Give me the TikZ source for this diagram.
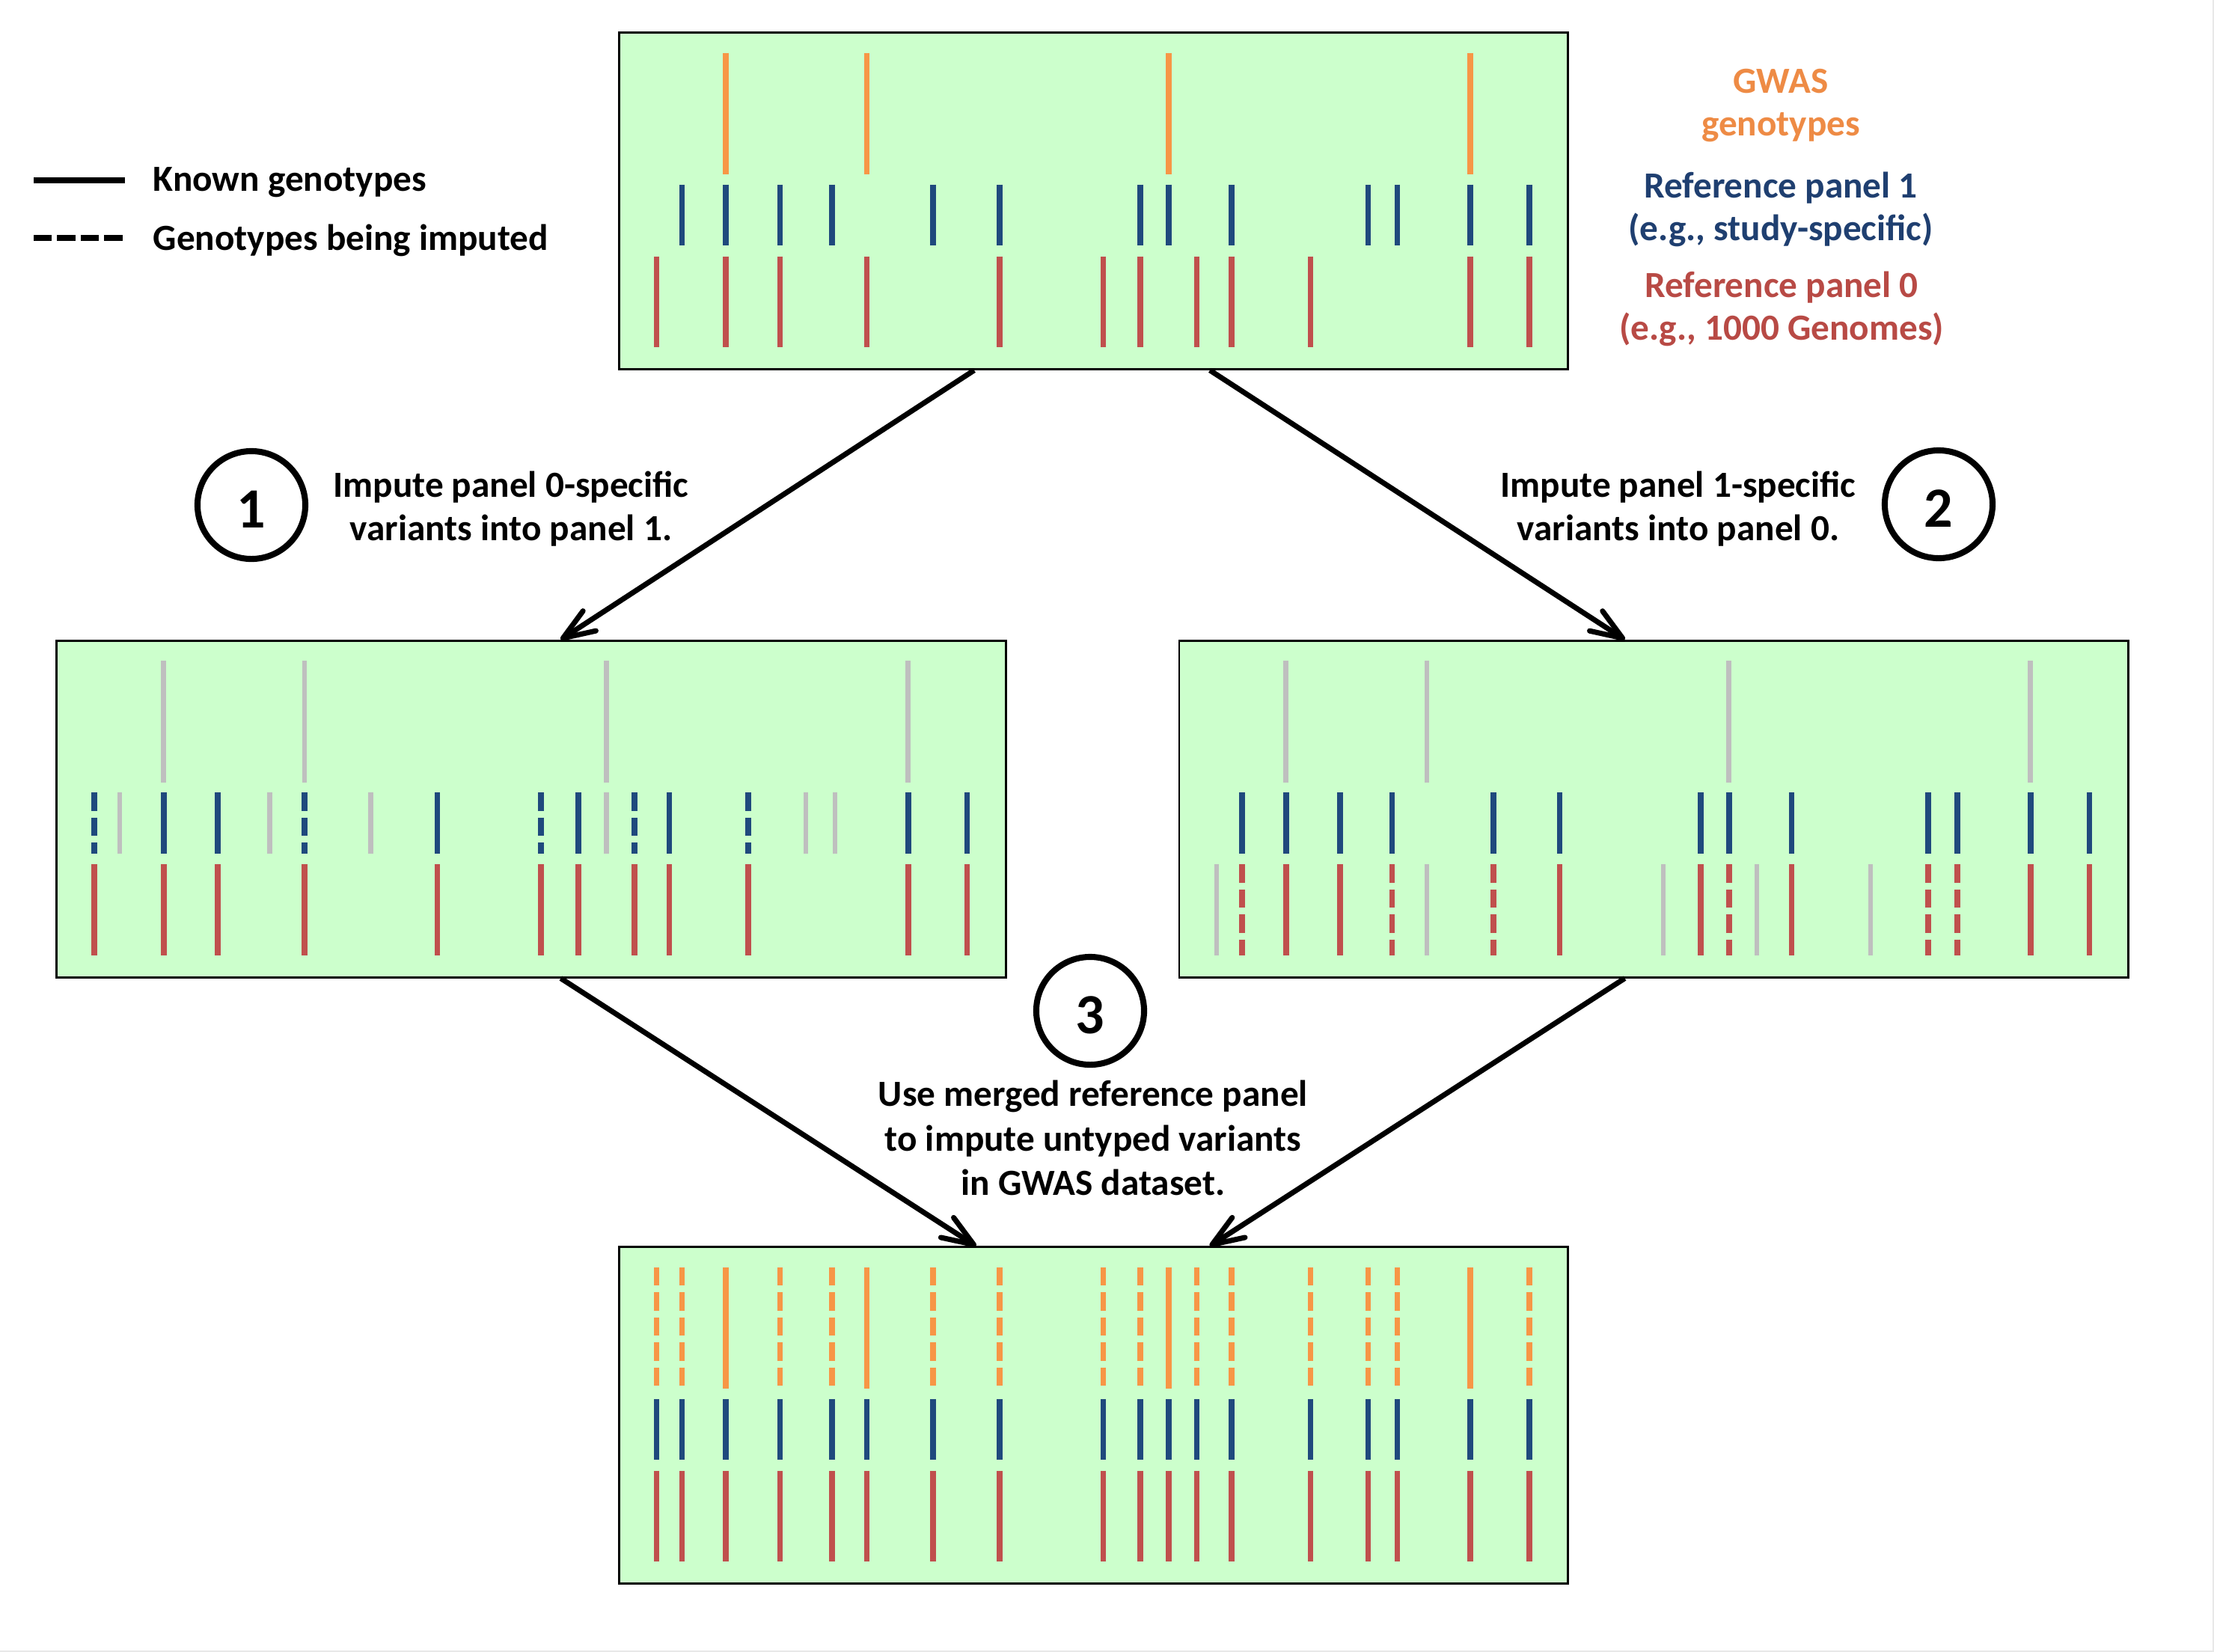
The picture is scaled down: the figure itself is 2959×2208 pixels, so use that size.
\documentclass[tikz,border=0pt]{standalone}
\usepackage{fontspec}
\setmainfont{Carlito}
\usetikzlibrary{arrows.meta,calc}
\definecolor{panelgreen}{HTML}{CCFFCC}
\definecolor{gorange}{HTML}{F79646}
\definecolor{gblue}{HTML}{1F497D}
\definecolor{gred}{HTML}{C0504D}
\definecolor{ggray}{HTML}{BFBFBF}
\definecolor{torange}{HTML}{EE8B45}
\definecolor{tblue}{HTML}{1F3F70}
\definecolor{tred}{HTML}{B84A45}
\def\gpos{{0,51.4,85.4,144.3,216.4,286.1,332.5,421.2,510.0,648.4,698.2,736.3,773.6,820.1,925.4,1002.5,1041.5,1139.3,1218.1}}
\newcommand\gbars[4]{\foreach \i in {#2}{\pgfmathsetmacro\gxx{\gpos[\i]}\draw[#1] (\gxx,#3) -- (\gxx,#4);}}
\newcommand\rowone[2]{\gbars{#1}{#2}{28.5}{191}}
\newcommand\rowtwo[2]{\gbars{#1}{#2}{204.5}{286}}
\newcommand\rowthree[2]{\gbars{#1}{#2}{300.5}{422}}
\tikzset{
  genebar/.style={line width=2.2pt},
  obar/.style={genebar, draw=gorange},
  bbar/.style={genebar, draw=gblue},
  rbar/.style={genebar, draw=gred},
  gbar/.style={line width=1.9pt, draw=ggray},
  impd/.style={dash pattern=on 6.95pt off 2.55pt},
  panel/.style={draw=black, line width=0.85pt, fill=panelgreen, minimum width=12.673cm, minimum height=4.495cm, inner sep=0pt},
  stepcircle/.style={circle, draw=black, line width=2.3pt, minimum size=1.44cm, inner sep=0pt, font=\fontsize{21.6}{24}\selectfont\bfseries, text height=17.1pt, text depth=0pt},
  flow/.style={line width=2pt, -{Straight Barb[length=12pt,width=9pt,round]}},
  lbl/.style={align=center, inner sep=0pt, font=\fontsize{14}{16.2}\selectfont\bfseries},
  steptext/.style={align=center, inner sep=0pt, font=\fontsize{14}{16.4}\selectfont\bfseries},
  legtext/.style={anchor=base west, inner sep=0pt, font=\fontsize{14}{16.8}\selectfont\bfseries},
  legline/.style={line width=2.28pt}
}
\begin{document}
\begin{tikzpicture}[x=0.01cm, y=-0.01cm]
\useasboundingbox (0,0) rectangle (2959,2208);
\fill[white] (0,0) rectangle (2959,2208);
\draw[line width=1.2pt, color=black!9] (2959,0) -- (2959,2208) -- (0,2208);

% panels
\node[panel] (p0) at (1461.5,268.5) {};
\node[panel] (p1) at (710,1081.2) {};
\node[panel] (p2) at (2210,1081.2) {};
\node[panel] (p3) at (1461.5,1891.8) {};

% top panel: GWAS, panel 1, panel 0
\begin{scope}[shift={(p0.north west)}]
\rowone{obar}{3,6,11,17}
\rowtwo{bbar}{2,3,4,5,7,8,10,11,13,15,16,17,18}
\rowthree{rbar}{1,3,4,6,8,9,10,12,13,14,17,18}
\end{scope}

% middle left panel
\begin{scope}[shift={(p1.north west)}]
\rowone{gbar}{3,6,11,17}
\rowtwo{bbar,impd}{1,6,9,12,14}
\rowtwo{gbar}{2,5,7,11,15,16}
\rowtwo{bbar}{3,4,8,10,13,17,18}
\rowthree{rbar}{1,3,4,6,8,9,10,12,13,14,17,18}
\end{scope}

% middle right panel
\begin{scope}[shift={(p2.north west)}]
\rowone{gbar}{3,6,11,17}
\rowtwo{bbar}{2,3,4,5,7,8,10,11,13,15,16,17,18}
\rowthree{gbar}{1,6,9,12,14}
\rowthree{rbar,impd}{2,5,7,11,15,16}
\rowthree{rbar}{3,4,8,10,13,17,18}
\end{scope}

% bottom panel
\begin{scope}[shift={(p3.north west)}]
\rowone{obar}{3,6,11,17}
\rowone{obar,impd}{1,2,4,5,7,8,9,10,12,13,14,15,16,18}
\rowtwo{bbar}{1,...,18}
\rowthree{rbar}{1,...,18}
\end{scope}

% arrows
\draw[flow] ($(p0.south west)+(476,0)$) -- ($(p1.north west)+(675,0)$);
\draw[flow] ($(p0.south west)+(791,0)$) -- ($(p2.north west)+(597,0)$);
\draw[flow] ($(p1.south west)+(675,0)$) -- ($(p3.north west)+(478.4,0)$);
\draw[flow] ($(p2.south west)+(597,0)$) -- ($(p3.north west)+(791,0)$);

% step circles
\node[stepcircle] (c1) at (336,675) {1};
\node[stepcircle] (c2) at (2591,674) {2};
\node[stepcircle] (c3) at (1457,1351) {3};

% step texts
\node[steptext] (t1) at (683,680) {Impute panel 0-specific\\variants into panel 1.};
\node[steptext] (t2) at (2243,680) {Impute panel 1-specific\\variants into panel 0.};
\node[steptext, font=\fontsize{14}{17}\selectfont\bfseries] (t3) at (1461,1521) {Use merged reference panel\\to impute untyped variants\\in GWAS dataset.};

% row labels
\node[lbl, text=torange] (lg) at (2380,141) {GWAS\\genotypes};
\node[lbl, text=tblue] (lr1) at (2380,279.5) {Reference panel 1\\(e.g., study-specific)};
\node[lbl, text=tred] (lr0) at (2381,413) {Reference panel 0\\(e.g., 1000 Genomes)};

% legend
\node[legtext] (k1) at (204,255) {Known genotypes};
\node[legtext] (k2) at (204,334) {Genotypes being imputed};
\draw[legline] (45,241) -- (167,241);
\draw[legline, dash pattern=on 6.9pt off 2.05pt] (45,318) -- (167,318);
\end{tikzpicture}
\end{document}
